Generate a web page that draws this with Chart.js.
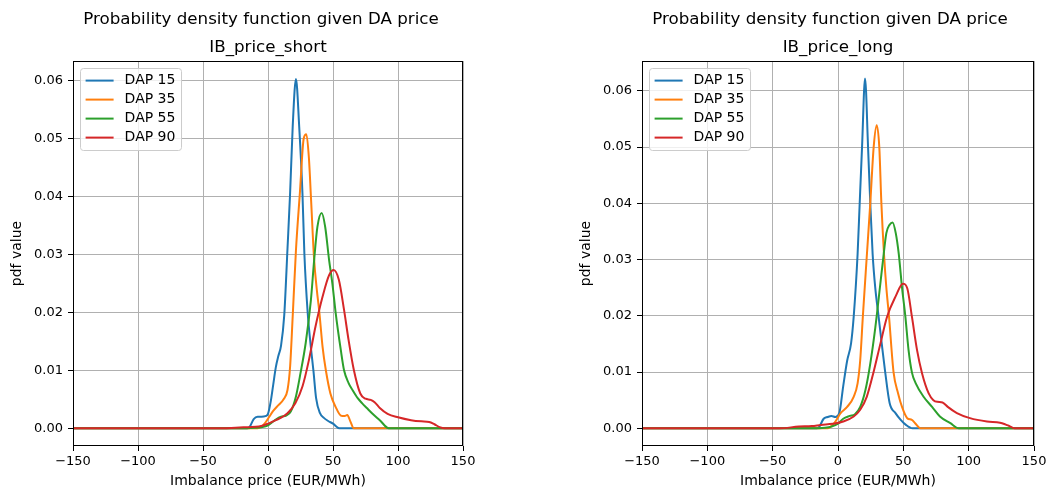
<!DOCTYPE html>
<html>
<head>
<meta charset="utf-8">
<script src="https://cdn.jsdelivr.net/npm/chart.js@4.4.0/dist/chart.umd.min.js"></script>
<style>
  body { margin: 0; background: #fff; }
  #fig { position: relative; width: 1050px; height: 493px; font-family: "DejaVu Sans", sans-serif; }
  canvas { position: absolute; top: 0; }
  .suptitle { position: absolute; top: 8px; width: 500px; text-align: center; font-size: 16.7px; line-height: 20px; color: #000; }
</style>
</head>
<body>
<div id="fig">
  <canvas id="chartShort" width="525" height="493" style="left: 0;"></canvas>
  <canvas id="chartLong" width="525" height="493" style="left: 525px;"></canvas>
  <div class="suptitle" style="left: 11px;">Probability density function given DA price</div>
  <div class="suptitle" style="left: 580px;">Probability density function given DA price</div>
</div>
<script>
const labels = ['DAP 15', 'DAP 35', 'DAP 55', 'DAP 90'];
const colors = ['#1f77b4', '#ff7f0e', '#2ca02c', '#d62728'];
const xTicks = [-150, -100, -50, 0, 50, 100, 150];
const yTicks = [0, 0.01, 0.02, 0.03, 0.04, 0.05, 0.06];

// IB_price_short
const s15x = [-150, -16, -14, -11, -8, -5, -2, 0, 2, 4, 6, 8, 10, 12.5, 15, 17, 19, 21.5, 24, 26.5, 28, 30.5, 32.5, 35, 37, 40, 43, 46, 50, 55, 150];
const s15y = [0, 0, 0.0003, 0.0016, 0.002, 0.002, 0.0021, 0.0025, 0.0045, 0.0075, 0.0105, 0.0125, 0.0142, 0.0195, 0.031, 0.0405, 0.052, 0.0602, 0.052, 0.0405, 0.030, 0.020, 0.015, 0.0098, 0.0052, 0.0026, 0.0018, 0.0013, 0.0008, 0, 0];
const s35x = [-150, -8, -5, -2, 1, 4, 8, 12, 15, 17, 19, 21.5, 24.5, 27.5, 29.5, 31.5, 33, 35.5, 37.5, 39.5, 42, 44.5, 48, 52, 56, 59, 61, 63.5, 66, 150];
const s35y = [0, 0, 0.0003, 0.001, 0.002, 0.003, 0.004, 0.005, 0.0066, 0.0106, 0.0193, 0.0307, 0.0405, 0.05, 0.0507, 0.0465, 0.04, 0.029, 0.024, 0.02, 0.014, 0.01, 0.006, 0.0037, 0.0022, 0.0021, 0.0023, 0.0011, 0, 0];
const s55x = [-150, -20, -10, -5, 0, 3, 6, 10, 14, 17.5, 21.5, 25, 29, 33, 35.5, 38, 41.3, 44, 47, 49.5, 52, 56, 58.5, 62, 65, 69, 72.5, 76, 80, 86, 93, 150];
const s55y = [0, 0, 0.0001, 0.0002, 0.0005, 0.001, 0.0015, 0.002, 0.0022, 0.0029, 0.0055, 0.0095, 0.0147, 0.0221, 0.029, 0.0347, 0.0371, 0.0347, 0.029, 0.025, 0.02, 0.0135, 0.01, 0.0078, 0.0066, 0.0052, 0.0043, 0.0035, 0.0026, 0.0014, 0, 0];
const s90x = [-150, -40, -25, -15, -7, 0, 4, 9, 15, 21, 26.5, 31.5, 36.5, 42, 47, 50.5, 54.5, 58.5, 62, 66, 71, 75, 79, 82, 86, 92, 100, 110, 118, 124, 128, 132, 136, 150];
const s90y = [0, 0, 0.0001, 0.0002, 0.0003, 0.0008, 0.0012, 0.0017, 0.0026, 0.0043, 0.0072, 0.0118, 0.0175, 0.0227, 0.0264, 0.0273, 0.0256, 0.0204, 0.0152, 0.0101, 0.006, 0.0051, 0.0049, 0.0045, 0.0035, 0.0025, 0.0019, 0.0014, 0.0012, 0.0011, 0.0007, 0.0002, 0, 0];

// IB_price_long
const l15x = [-150, -16, -14.5, -11, -8, -5, -2, 1, 4, 7, 10, 12, 15, 16.6, 18.4, 20.7, 23, 24.7, 26.5, 28.5, 31, 33.5, 36, 39.5, 44, 48, 52, 57, 150];
const l15y = [0, 0, 0.0002, 0.0017, 0.002, 0.0022, 0.002, 0.0027, 0.0075, 0.012, 0.0151, 0.0198, 0.031, 0.04, 0.05, 0.0622, 0.05, 0.04, 0.031, 0.025, 0.02, 0.015, 0.0102, 0.0045, 0.0027, 0.0015, 0.0006, 0, 0];
const l35x = [-150, -8, -6, -2, 2, 7, 12, 15, 17, 19, 22, 24.7, 27.3, 29.6, 31.6, 33.2, 35.2, 37, 39, 42.5, 46, 49, 53, 56.5, 59, 63, 150];
const l35y = [0, 0, 0.0002, 0.0012, 0.0027, 0.0038, 0.0056, 0.008, 0.0121, 0.0198, 0.0305, 0.04, 0.05, 0.0539, 0.05, 0.04, 0.031, 0.025, 0.02, 0.01, 0.0062, 0.0038, 0.0018, 0.0015, 0.0009, 0, 0];
const l55x = [-150, -20, -10, -5, 0, 4, 9, 13, 17, 21, 24.7, 28.6, 32.4, 34.5, 37, 39.5, 41.8, 44.2, 46.5, 49, 51.5, 54, 56.6, 59.5, 65.5, 72, 78, 86, 92.5, 150];
const l55y = [0, 0, 0.0001, 0.0003, 0.0008, 0.0017, 0.0022, 0.0025, 0.0038, 0.0068, 0.0115, 0.018, 0.0257, 0.03, 0.0347, 0.0362, 0.0366, 0.0347, 0.031, 0.025, 0.02, 0.0139, 0.0099, 0.008, 0.0056, 0.0038, 0.0021, 0.0009, 0, 0];
const l90x = [-150, -45, -30, -20, -13, -4, 4, 12, 17, 22, 27, 32.5, 37.5, 44, 49.7, 53, 56.6, 60.5, 64.3, 69.4, 73, 76, 80, 84, 91, 101, 114, 124, 128, 131, 135, 150];
const l90y = [0, 0, 0.0003, 0.0004, 0.0006, 0.0008, 0.0012, 0.0021, 0.0033, 0.0056, 0.0098, 0.0151, 0.0198, 0.0234, 0.0257, 0.0249, 0.0198, 0.0139, 0.0098, 0.0062, 0.005, 0.0047, 0.0046, 0.0038, 0.0027, 0.0018, 0.0012, 0.001, 0.0007, 0.0004, 0, 0];

Chart.defaults.font.family = '"DejaVu Sans", sans-serif';
Chart.defaults.color = '#000';

// black frame round the plot + matplotlib style legend box in the upper left
const mplFrame = {
  id: 'mplFrame',
  afterDraw(chart) {
    const { ctx, chartArea: a } = chart;
    const left = Math.round(a.left), top = Math.round(a.top);
    const right = Math.round(a.right), bottom = Math.round(a.bottom);
    ctx.save();
    ctx.strokeStyle = '#000';
    ctx.lineWidth = 1;
    ctx.strokeRect(left + 0.5, top + 0.5, right - left - 1, bottom - top - 1);

    const ds = chart.data.datasets;
    ctx.font = '14px "DejaVu Sans"';
    const tw = Math.max(...ds.map(d => ctx.measureText(d.label).width));
    const bx = left + 7, by = top + 7;
    const bw = 5.6 + 28 + 11 + tw + 5.6;
    const bh = 82;
    ctx.beginPath();
    ctx.roundRect(bx + 0.5, by + 0.5, bw, bh, 3);
    ctx.fillStyle = 'rgba(255,255,255,0.8)';
    ctx.fill();
    ctx.strokeStyle = '#cccccc';
    ctx.stroke();
    ds.forEach((d, i) => {
      const cy = by + 12.6 + i * 19;
      ctx.beginPath();
      ctx.moveTo(bx + 5.6, cy);
      ctx.lineTo(bx + 33.6, cy);
      ctx.strokeStyle = d.borderColor;
      ctx.lineWidth = 2;
      ctx.stroke();
      ctx.fillStyle = '#000';
      ctx.textBaseline = 'middle';
      ctx.textAlign = 'left';
      ctx.fillText(d.label, bx + 44.6, cy);
    });
    ctx.restore();
  }
};

function makeChart(id, subtitle, padLeft, padRight, yMin, yMax, xs, ys) {
  return new Chart(document.getElementById(id), {
    type: 'line',
    data: {
      datasets: labels.map((lab, i) => ({
        label: lab,
        data: xs[i].map((x, j) => ({ x: x, y: ys[i][j] })),
        borderColor: colors[i],
        backgroundColor: colors[i],
        borderWidth: 2,
        pointRadius: 0,
        cubicInterpolationMode: 'monotone',
        fill: false,
        order: labels.length - i
      }))
    },
    options: {
      responsive: false,
      animation: false,
      layout: { padding: { left: padLeft, right: padRight, top: 0, bottom: 0 } },
      plugins: {
        legend: { display: false },
        tooltip: { enabled: false },
        title: {
          display: true, text: subtitle, fullSize: false, color: '#000',
          font: { size: 16.7, weight: 'normal' },
          padding: { top: 38, bottom: 3 }
        }
      },
      scales: {
        x: {
          type: 'linear', min: -150, max: 150,
          afterFit: s => { s.height = 47; },
          afterBuildTicks: s => { s.ticks = xTicks.map(v => ({ value: v })); },
          grid: { color: '#b0b0b0', lineWidth: 1, tickColor: '#000', tickLength: 5, tickWidth: 1 },
          border: { display: false },
          ticks: {
            color: '#000', font: { size: 13 }, padding: 3, maxRotation: 0, autoSkip: false,
            callback: v => v < 0 ? '\u2212' + (-v) : String(v)
          },
          title: { display: true, text: 'Imbalance price (EUR/MWh)', color: '#000', font: { size: 14 }, padding: { top: 0, bottom: 3 } }
        },
        y: {
          min: yMin, max: yMax,
          afterFit: s => { s.width = 73; },
          afterBuildTicks: s => { s.ticks = yTicks.map(v => ({ value: v })); },
          grid: { color: '#b0b0b0', lineWidth: 1, tickColor: '#000', tickLength: 5, tickWidth: 1 },
          border: { display: false },
          ticks: { color: '#000', font: { size: 13 }, padding: 5, callback: v => v.toFixed(2) },
          title: { display: true, text: 'pdf value', color: '#000', font: { size: 14 }, padding: { top: 8.6, bottom: 0 } }
        }
      }
    },
    plugins: [mplFrame]
  });
}

makeChart('chartShort', 'IB_price_short', 0, 62, -0.00305, 0.0633,
  [s15x, s35x, s55x, s90x], [s15y, s35y, s55y, s90y]);
makeChart('chartLong', 'IB_price_long', 44, 16, -0.00315, 0.0653,
  [l15x, l35x, l55x, l90x], [l15y, l35y, l55y, l90y]);
</script>
</body>
</html>
